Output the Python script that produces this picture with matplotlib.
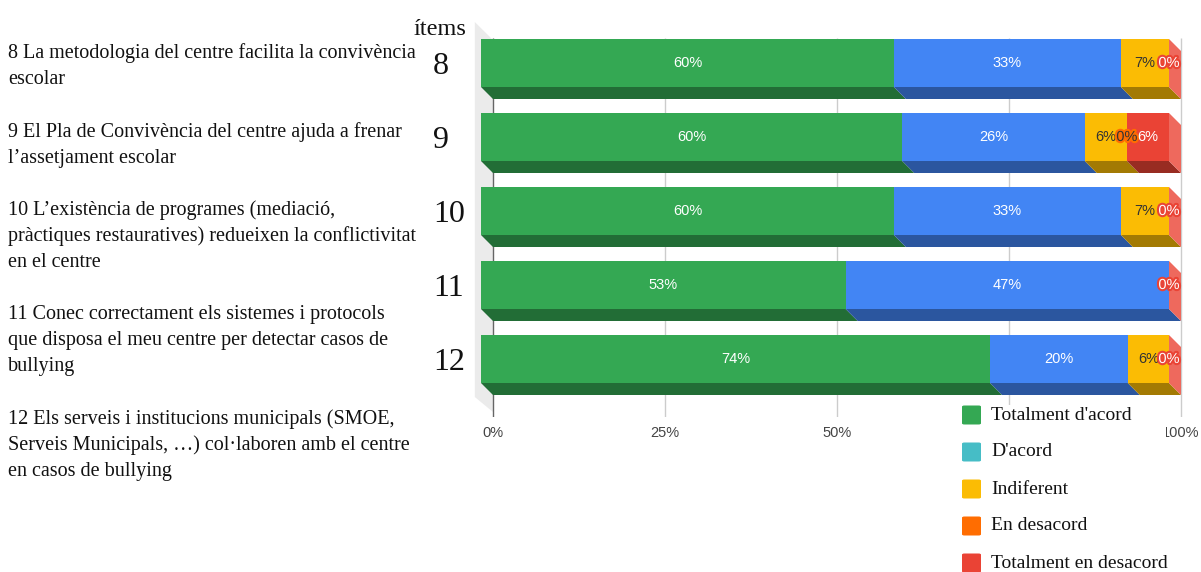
import matplotlib.pyplot as plt
from matplotlib.patches import Polygon, FancyBboxPatch, Rectangle
import matplotlib.patheffects as pe

# Percentatges per ítem (barres 100% apilades)
items = ["8", "9", "10", "11", "12"]
series = ["Totalment d'acord", "D'acord", "Indiferent", "En desacord",
          "Totalment en desacord"]
totalment_acord = [60, 60, 60, 53, 74]
acord = [33, 26, 33, 47, 20]
indiferent = [7, 6, 7, 0, 6]
desacord = [0, 0, 0, 0, 0]
totalment_desacord = [0, 6, 0, 0, 0]
valors = [totalment_acord, acord, indiferent, desacord, totalment_desacord]

colors_barra = ["#34a853", "#4285f4", "#fbbc04", "#ff6d01", "#ea4335"]
colors_llegenda = ["#34a853", "#46bdc6", "#fbbc04", "#ff6d01", "#ea4335"]
color_text = ["white", "white", "#333333", "#333333", "white"]

enunciats = [
    ["8 La metodologia del centre facilita la convivència", "escolar"],
    ["9 El Pla de Convivència del centre ajuda a frenar",
     "l’assetjament escolar"],
    ["10 L’existència de programes (mediació,",
     "pràctiques restauratives) redueixen la conflictivitat", "en el centre"],
    ["11 Conec correctament els sistemes i protocols",
     "que disposa el meu centre per detectar casos de", "bullying"],
    ["12 Els serveis i institucions municipals (SMOE,",
     "Serveis Municipals, …) col·laboren amb el centre",
     "en casos de bullying"],
]
ticks = [0, 0.25, 0.5, 0.75, 1.0]
tick_labels = ["0%", "25%", "50%", "75%", "100%"]

W, H = 1201, 572
SERIF = "Liberation Serif"
SANS = "Liberation Sans"


def fx(px):
    return px / W


def fy(py):
    return 1 - py / H


def fosc(c, k=0.65):
    r, g, b = [int(c[i:i + 2], 16) for i in (1, 3, 5)]
    return (r * k / 255, g * k / 255, b * k / 255)


def clar(c, k=0.2):
    r, g, b = [int(c[i:i + 2], 16) / 255 for i in (1, 3, 5)]
    return (r + (1 - r) * k, g + (1 - g) * k, b + (1 - b) * k)


fig = plt.figure(figsize=(W / 100, H / 100), dpi=100)
ax = fig.add_axes([fx(465), fy(417), (1195 - 465) / W, (417 - 15) / H])
ax.set_xlim((465 - 481) / 688, (1195 - 481) / 688)
ax.set_ylim((417 - 63) / 74, (15 - 63) / 74)
for s in ax.spines.values():
    s.set_visible(False)

# desplaçament de la cara posterior (efecte 3D)
DX, DY = 12 / 688, 12 / 74
ALT = 48 / 74

# paret lateral
paret = Polygon([(-0.009, (22 - 63) / 74), (DX, (40 - 63) / 74),
                 (DX, (412 - 63) / 74), (-0.009, (397 - 63) / 74)],
                closed=True, facecolor="#ebebeb", edgecolor="none", zorder=0)
ax.add_patch(paret)

# línies de la graella al pla del fons
for t in ticks:
    ax.vlines(t + DX, (38 - 63) / 74, (417 - 63) / 74,
              color="#666666" if t == 0 else "#cccccc", lw=1, zorder=1)

for i in range(len(items)):
    total = sum(v[i] for v in valors)
    esq = 0.0
    trams = []
    for k, v in enumerate(valors):
        w = v[i] / total
        ax.barh(i, w, left=esq, height=ALT, color=colors_barra[k], zorder=3)
        base = i + ALT / 2
        ax.add_patch(Polygon([(esq, base), (esq + w, base),
                              (esq + w + DX, base + DY), (esq + DX, base + DY)],
                             closed=True, facecolor=fosc(colors_barra[k]),
                             edgecolor="none", zorder=3))
        trams.append((esq, w, v[i]))
        esq += w
    # cara lateral dreta
    ax.add_patch(Polygon([(1, i - ALT / 2), (1 + DX, i - ALT / 2 + DY),
                          (1 + DX, i + ALT / 2 + DY), (1, i + ALT / 2)],
                         closed=True, facecolor=clar(colors_barra[-1]),
                         edgecolor="none", zorder=3))
    # etiquetes de percentatge
    for k, (l, w, v) in enumerate(trams):
        if v == 0 and any(valors[j][i] == 0 for j in range(k + 1, len(valors))):
            continue
        txt = ax.text(l + w / 2, i, f"{v}%", ha="center", va="center",
                      fontsize=10.5, family=SANS, color=color_text[k], zorder=5)
        if v == 0:
            txt.set_path_effects([pe.withStroke(linewidth=3,
                                                foreground=colors_barra[k])])

ax.set_xticks([t + DX for t in ticks])
ax.set_xticklabels(tick_labels, family=SANS, fontsize=10.5, color="#444444")
ax.tick_params(axis="x", length=0, pad=6.5)
ax.set_yticks(range(len(items)))
ax.set_yticklabels(items, family=SERIF, fontsize=23, ha="left", color="#111111")
ax.tick_params(axis="y", length=0, pad=23)

fig.text(fx(414), fy(35), "ítems", family=SERIF, fontsize=17.5,
         ha="left", va="baseline", color="#111111")

# enunciats de cada ítem
y = 58
for bloc in enunciats:
    for linia in bloc:
        fig.text(fx(8), fy(y), linia, family=SERIF, fontsize=14.5,
                 ha="left", va="baseline", color="#111111")
        y += 26
    y += 26.5

# llegenda
fig.add_artist(Rectangle((fx(950), 0), fx(1166) - fx(950), fy(405),
                         transform=fig.transFigure, facecolor="white",
                         edgecolor="none", zorder=2))
for k, nom in enumerate(series):
    yc = 415 + 37 * k
    fig.add_artist(FancyBboxPatch((fx(962), fy(yc + 9.5)), fx(19), 19 / H,
                                  boxstyle="round,pad=0,rounding_size=0.002",
                                  transform=fig.transFigure,
                                  facecolor=colors_llegenda[k],
                                  edgecolor="none", zorder=3))
    fig.text(fx(991), fy(yc), nom, family=SERIF, fontsize=14,
             ha="left", va="center", color="#111111", zorder=4)

fig.savefig("out.png", dpi=100)
